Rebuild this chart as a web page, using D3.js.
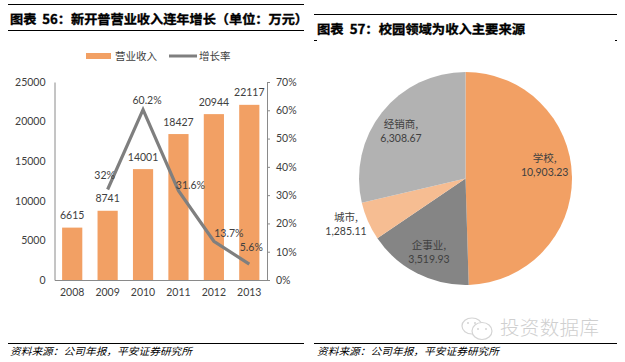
<!DOCTYPE html>
<html><head><meta charset="utf-8">
<script src="https://cdn.jsdelivr.net/npm/d3@7"></script>
<style>html,body{margin:0;padding:0;background:#fff}svg{display:block}
text{font-family:Lato,"Liberation Sans",Arial,sans-serif}
.cjk{font-family:"Noto Sans CJK SC",sans-serif}</style></head><body>
<svg id="c" width="625" height="362"></svg>
<script>
const years=["2008","2009","2010","2011","2012","2013"];
const revenue=[6615,8741,14001,18427,20944,22117];
const growthYears=["2009","2010","2011","2012","2013"];
const growth=[32,60.2,31.6,13.7,5.6];
const growthLabels=["32%","60.2%","31.6%","13.7%","5.6%"];
const leftTicks=[0,5000,10000,15000,20000,25000];
const rightTicks=[0,10,20,30,40,50,60,70];
const pieNames=["学校","企事业","城市","经销商"];
const pieValues=[10903.23,3519.93,1285.11,6308.67];
const pieLabels=["10,903.23","3,519.93","1,285.11","6,308.67"];
const pieColors=["#f2a064","#858585","#f6bd92","#b2b2b2"];
const title1="图表  56：新开普营业收入连年增长（单位：万元）";
const title2="图表  57：校园领域为收入主要来源";
const source="资料来源：公司年报，平安证券研究所";

const svg=d3.select("#c");
const txt="#404040",axisC="#8a8a8a",orange="#f2a064",lineC="#7f7f7f";
const numFont="Lato,'Liberation Sans',Arial,sans-serif";
function rule(x1,x2,y,w){svg.append("rect").attr("x",x1).attr("y",y).attr("width",x2-x1).attr("height",w||1).attr("fill","#000");}
rule(8,304,4);rule(8,304,30);rule(8,304,343);
rule(314,617,14);rule(314,317,40);rule(615,617,40);rule(314,617,343);

function head(t,x,y,len){svg.append("text").attr("class","cjk").attr("x",x).attr("y",y).attr("font-size",12.5).attr("font-weight",700).attr("fill","#000").attr("stroke","#000").attr("stroke-width",0.35).attr("xml:space","preserve").attr("textLength",len).attr("lengthAdjust","spacingAndGlyphs").text(t);}
head(title1,10,24,298);head(title2,317,34,208);
function src(x){svg.append("text").attr("class","cjk").attr("x",x).attr("y",354.5).attr("font-size",10).attr("font-style","italic").attr("fill","#000").attr("textLength",182).attr("lengthAdjust","spacingAndGlyphs").text(source);}
src(10);src(317);

// left chart
const x=d3.scaleBand().domain(years).range([54.5,267]).paddingInner(0.43).paddingOuter(0.215);
const yL=d3.scaleLinear().domain([0,25000]).range([280,82]);
const yR=d3.scaleLinear().domain([0,70]).range([280,82]);
const cx=d=>x(d)+x.bandwidth()/2;
svg.append("g").selectAll("rect").data(revenue).join("rect")
 .attr("x",(d,i)=>x(years[i])).attr("y",d=>yL(d)).attr("width",x.bandwidth()).attr("height",d=>280-yL(d)).attr("fill",orange);
const gl=svg.append("g").attr("transform","translate(54.5,0)").call(d3.axisLeft(yL).tickValues(leftTicks).tickSize(0).tickPadding(9).tickFormat(d3.format("d")));
const gr=svg.append("g").attr("transform","translate(267,0)").call(d3.axisRight(yR).tickValues(rightTicks).tickSize(3).tickPadding(6).tickFormat(d=>d+"%"));
const gb=svg.append("g").attr("transform","translate(0,280)").call(d3.axisBottom(x).tickSize(0).tickPadding(9));
[gl,gr,gb].forEach(g=>{g.selectAll("path").attr("stroke",axisC).attr("stroke-width",1);g.selectAll("line").attr("stroke",axisC);g.selectAll("text").attr("font-size",10.5).attr("fill",txt).attr("font-family",numFont);});
const line=d3.line().x((d,i)=>cx(growthYears[i])).y(d=>yR(d));
svg.append("path").attr("d",line(growth)).attr("fill","none").attr("stroke",lineC).attr("stroke-width",3.2);
svg.append("g").selectAll("text").data(revenue).join("text").attr("x",(d,i)=>cx(years[i])).attr("y",d=>yL(d)-8.5).attr("text-anchor","middle").attr("font-size",10.5).attr("fill",txt).text(d=>d);
svg.append("g").selectAll("text").data(growth).join("text")
 .attr("x",(d,i)=>cx(growthYears[i])+[-3,4,12,15,2][i])
 .attr("y",(d,i)=>yR(d)+[-10.5,-6,-2,-4,-13.5][i])
 .attr("text-anchor","middle").attr("font-size",10.5).attr("fill",txt).text((d,i)=>growthLabels[i]);
// legend
svg.append("rect").attr("x",86).attr("y",53).attr("width",25).attr("height",6).attr("fill",orange);
svg.append("text").attr("class","cjk").attr("x",115).attr("y",60).attr("font-size",10.5).attr("fill",txt).text("营业收入");
svg.append("line").attr("x1",169).attr("x2",197).attr("y1",56).attr("y2",56).attr("stroke",lineC).attr("stroke-width",3);
svg.append("text").attr("class","cjk").attr("x",199).attr("y",60).attr("font-size",10.5).attr("fill",txt).text("增长率");

// pie
const pcx=465.5,pcy=178.5,r=106.5;
const pie=d3.pie().sort(null).value(d=>d)(pieValues);
const arc=d3.arc().innerRadius(0).outerRadius(r);
svg.append("g").attr("transform",`translate(${pcx},${pcy})`).selectAll("path").data(pie).join("path").attr("d",arc).attr("fill",(d,i)=>pieColors[i]);
const lx=[544.7,429,346,401],ly=[162,249,220.7,128];
pieNames.forEach((n,i)=>{
 svg.append("text").attr("class","cjk").attr("x",lx[i]).attr("y",ly[i]).attr("text-anchor","middle").attr("font-size",10.5).attr("fill",txt).text(n+",");
 svg.append("text").attr("x",lx[i]).attr("y",ly[i]+14).attr("text-anchor","middle").attr("font-size",10.5).attr("fill",txt).attr("font-family",numFont).text(pieLabels[i]);
});
// watermark
const wm=svg.append("g").attr("fill","#fff").attr("stroke","#d4d4d4").attr("stroke-width",1.2);
wm.append("ellipse").attr("cx",472).attr("cy",326).attr("rx",10).attr("ry",8);
wm.append("ellipse").attr("cx",482).attr("cy",331).attr("rx",10).attr("ry",8.5);
const dots=[[468,323],[475,323],[478,329],[486,329]];
svg.append("g").selectAll("circle").data(dots).join("circle").attr("cx",d=>d[0]).attr("cy",d=>d[1]).attr("r",1).attr("fill","#d4d4d4");
svg.append("text").attr("class","cjk").attr("x",500).attr("y",335).attr("font-size",19.5).attr("font-weight",300).attr("fill","#cfcfcf").attr("textLength",99).text("投资数据库");
</script></body></html>
